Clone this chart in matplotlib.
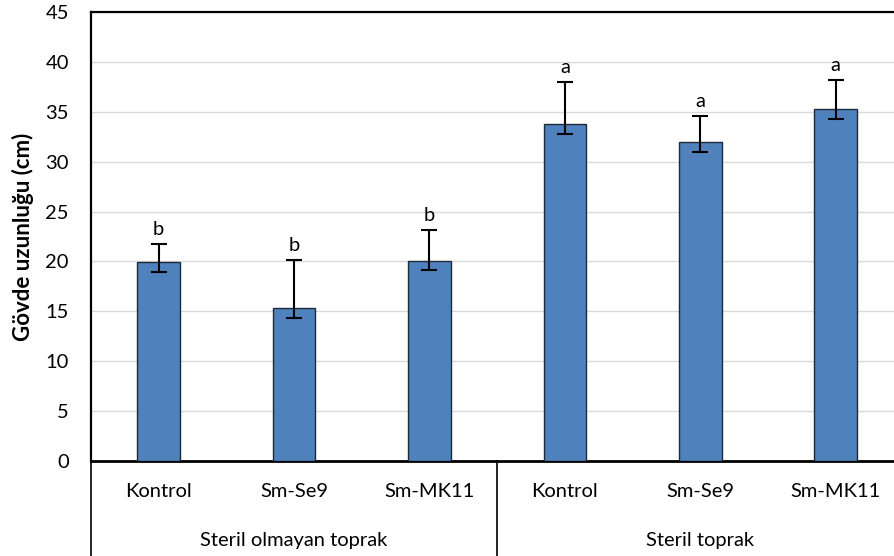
import matplotlib
matplotlib.use('Agg')
from matplotlib import pyplot as plt
import matplotlib.transforms as mtransforms
import numpy as np

plt.rcParams['font.family'] = ['Lato', 'DejaVu Sans']

# data
treatments = ['Kontrol', 'Sm-Se9', 'Sm-MK11', 'Kontrol', 'Sm-Se9', 'Sm-MK11']
groups = ['Steril olmayan toprak', 'Steril toprak']
heights = [19.9, 15.3, 20.0, 33.8, 32.0, 35.3]
err_up = [1.8, 4.8, 3.2, 4.2, 2.6, 2.9]
err_down = [1.0, 1.0, 0.9, 1.0, 1.0, 1.0]
letters = ['b', 'b', 'b', 'a', 'a', 'a']
yticks = list(range(0, 50, 5))

W, H = 895, 556
fig = plt.figure(figsize=(W / 100, H / 100), dpi=100)
# plot area runs a bit past the right edge, like the source
left, right, bottom, top = 91, 903.4, 461, 12
ax = fig.add_axes([left / W, (H - bottom) / H, (right - left) / W, (bottom - top) / H])

fs = 14.5
x = np.arange(len(heights))
ax.bar(x, heights, width=0.315, color='#4F81BD', edgecolor='#1f2a38',
       linewidth=1.0, zorder=3)
ax.errorbar(x, heights, yerr=[err_down, err_up], fmt='none', ecolor='black',
            elinewidth=1.5, capsize=5.5, capthick=1.5, zorder=4)
for xi, h, e, t in zip(x, heights, err_up, letters):
    ax.text(xi, h + e + 0.6, t, ha='center', va='bottom', fontsize=fs)

ax.set_xlim(-0.5, len(heights) - 0.5)
ax.set_ylim(0, 45)
ax.set_yticks(yticks)
ax.yaxis.grid(True, color='#d9d9d9', linewidth=1.0, zorder=0)
ax.set_axisbelow(True)
ax.tick_params(axis='y', length=0, pad=16, labelsize=fs)
ax.set_xticks(x)
ax.set_xticklabels(treatments, fontsize=fs)
ax.tick_params(axis='x', length=0, pad=16)

for s in ['left', 'top', 'bottom']:
    ax.spines[s].set_linewidth(1.6)
    ax.spines[s].set_color('black')
ax.spines['bottom'].set_linewidth(2.0)
ax.spines['right'].set_visible(False)

ax.set_ylabel('Gövde uzunluğu (cm)', fontsize=16, fontweight='bold')
ax.yaxis.set_label_coords(-57 / (right - left), 0.5)

# group labels and separators under the axis
trans = mtransforms.blended_transform_factory(ax.transData, ax.transAxes)
for gi, g in enumerate(groups):
    ax.text(gi * 3 + 1, -0.176, g, transform=trans, ha='center', va='center',
            fontsize=fs)
for xs in [-0.5, 2.5]:
    ax.plot([xs, xs], [0, -0.22], transform=trans, color='black',
            linewidth=1.2, clip_on=False)

fig.savefig('out.png', dpi=100)
